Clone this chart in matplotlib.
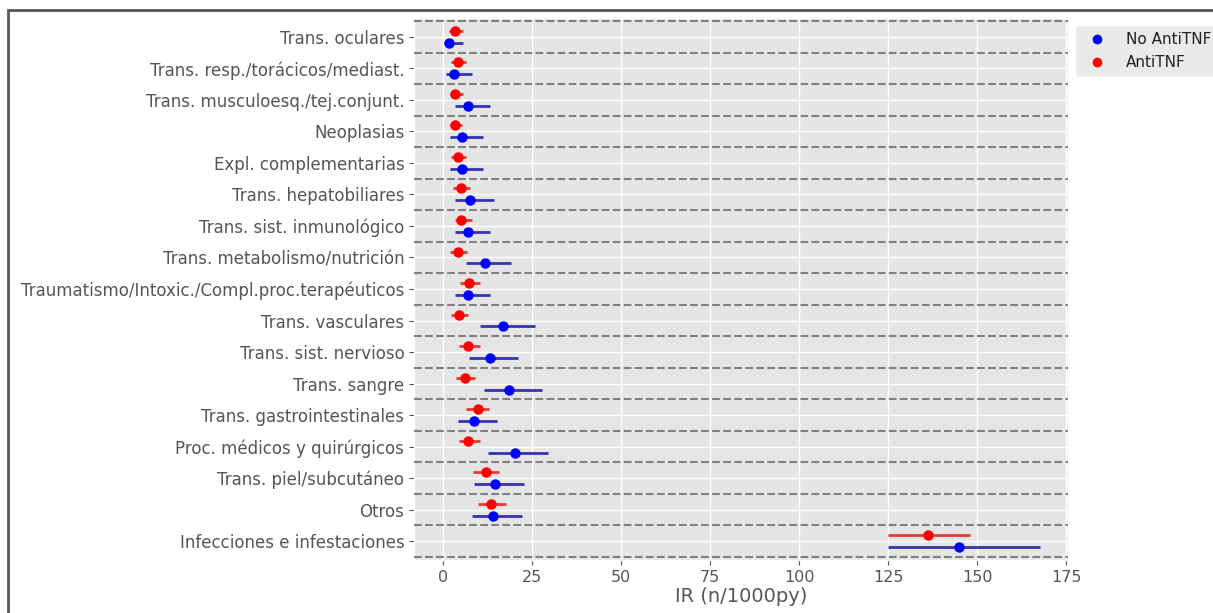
import matplotlib
matplotlib.use("Agg")
import matplotlib.pyplot as plt
from matplotlib.patches import Rectangle
from matplotlib.lines import Line2D
import numpy as np

categories = [
    "Trans. oculares",
    "Trans. resp./torácicos/mediast.",
    "Trans. musculoesq./tej.conjunt.",
    "Neoplasias",
    "Expl. complementarias",
    "Trans. hepatobiliares",
    "Trans. sist. inmunológico",
    "Trans. metabolismo/nutrición",
    "Traumatismo/Intoxic./Compl.proc.terapéuticos",
    "Trans. vasculares",
    "Trans. sist. nervioso",
    "Trans. sangre",
    "Trans. gastrointestinales",
    "Proc. médicos y quirúrgicos",
    "Trans. piel/subcutáneo",
    "Otros",
    "Infecciones e infestaciones",
]

antitnf_ir = [3.4, 4.1, 3.4, 3.4, 4.1, 5.0, 5.0, 4.1, 7.3, 4.4, 7.1, 6.0, 9.7, 7.1, 11.9, 13.5, 136.3]
antitnf_lo = [1.6, 2.2, 1.8, 1.8, 2.3, 2.8, 3.2, 2.0, 4.8, 2.3, 4.4, 3.7, 6.4, 4.4, 8.5, 9.9, 125.0]
antitnf_hi = [5.6, 6.3, 5.6, 5.4, 6.3, 7.6, 8.0, 6.6, 10.2, 7.0, 10.4, 9.0, 13.0, 10.4, 15.8, 17.6, 147.9]

noanti_ir = [1.75, 3.0, 7.1, 5.3, 5.3, 7.6, 7.1, 11.7, 7.1, 16.9, 13.2, 18.4, 8.7, 20.2, 14.6, 13.9, 145.0]
noanti_lo = [0.2, 0.8, 3.2, 2.0, 2.0, 3.4, 3.2, 6.4, 3.2, 10.2, 7.3, 11.5, 4.1, 12.7, 8.7, 8.0, 125.0]
noanti_hi = [5.6, 8.0, 13.2, 11.3, 11.3, 14.3, 13.2, 19.0, 13.2, 25.7, 21.1, 27.8, 15.2, 29.3, 22.8, 22.0, 167.5]

xticks = [0, 25, 50, 75, 100, 125, 150, 175]

plt.style.use("ggplot")
fig = plt.figure(figsize=(12.13, 6.13), dpi=100)
ax = fig.add_axes([414 / 1213, 1 - 560 / 613, (1068 - 414) / 1213, (560 - 18) / 613])

n = len(categories)
pos = np.arange(n)
off = 0.19

a_ir = np.array(antitnf_ir)
n_ir = np.array(noanti_ir)
a_err = np.vstack([a_ir - np.array(antitnf_lo), np.array(antitnf_hi) - a_ir])
n_err = np.vstack([n_ir - np.array(noanti_lo), np.array(noanti_hi) - n_ir])

ax.errorbar(n_ir, pos + off, xerr=n_err, fmt="o", color="blue", ecolor="#3434b0",
            elinewidth=2.0, markersize=6.5, capsize=0, zorder=4, label="No AntiTNF")
ax.errorbar(a_ir, pos - off, xerr=a_err, fmt="o", color="red", ecolor="#e63b2e",
            elinewidth=2.0, markersize=6.5, capsize=0, zorder=4, label="AntiTNF")

for b in np.arange(-0.5, n + 0.5, 1.0):
    ax.axhline(b, color="#808080", linestyle="--", linewidth=1.5, zorder=3)

ax.set_yticks(pos)
ax.set_yticklabels(categories, fontsize=12, color="#555555")
ax.set_xticks(xticks)
ax.set_xticklabels([str(t) for t in xticks], fontsize=11.5, color="#555555")
ax.set_xlim(-8.2, 175.5)
ax.set_ylim(n - 0.4, -0.6)
ax.set_xlabel("IR (n/1000py)", fontsize=14, color="#555555", labelpad=2)
ax.grid(True, color="white", linewidth=1.0)
ax.set_axisbelow(True)

handles = [
    Line2D([], [], marker="o", linestyle="none", color="blue", markersize=6),
    Line2D([], [], marker="o", linestyle="none", color="red", markersize=6),
]
leg = ax.legend(handles, ["No AntiTNF", "AntiTNF"], loc="upper left",
                bbox_to_anchor=(1.012, 0.985), fontsize=11, frameon=True,
                facecolor="#E5E5E5", edgecolor="#E5E5E5", handletextpad=0.9,
                borderaxespad=0.0)
for t in leg.get_texts():
    t.set_color("#222222")

fig.patches.append(Rectangle((8 / 1213, -0.2), 1.5, 1.2 - 10 / 613, transform=fig.transFigure,
                             fill=False, edgecolor="#555555", linewidth=2.0))

fig.savefig("out.png", dpi=100)
